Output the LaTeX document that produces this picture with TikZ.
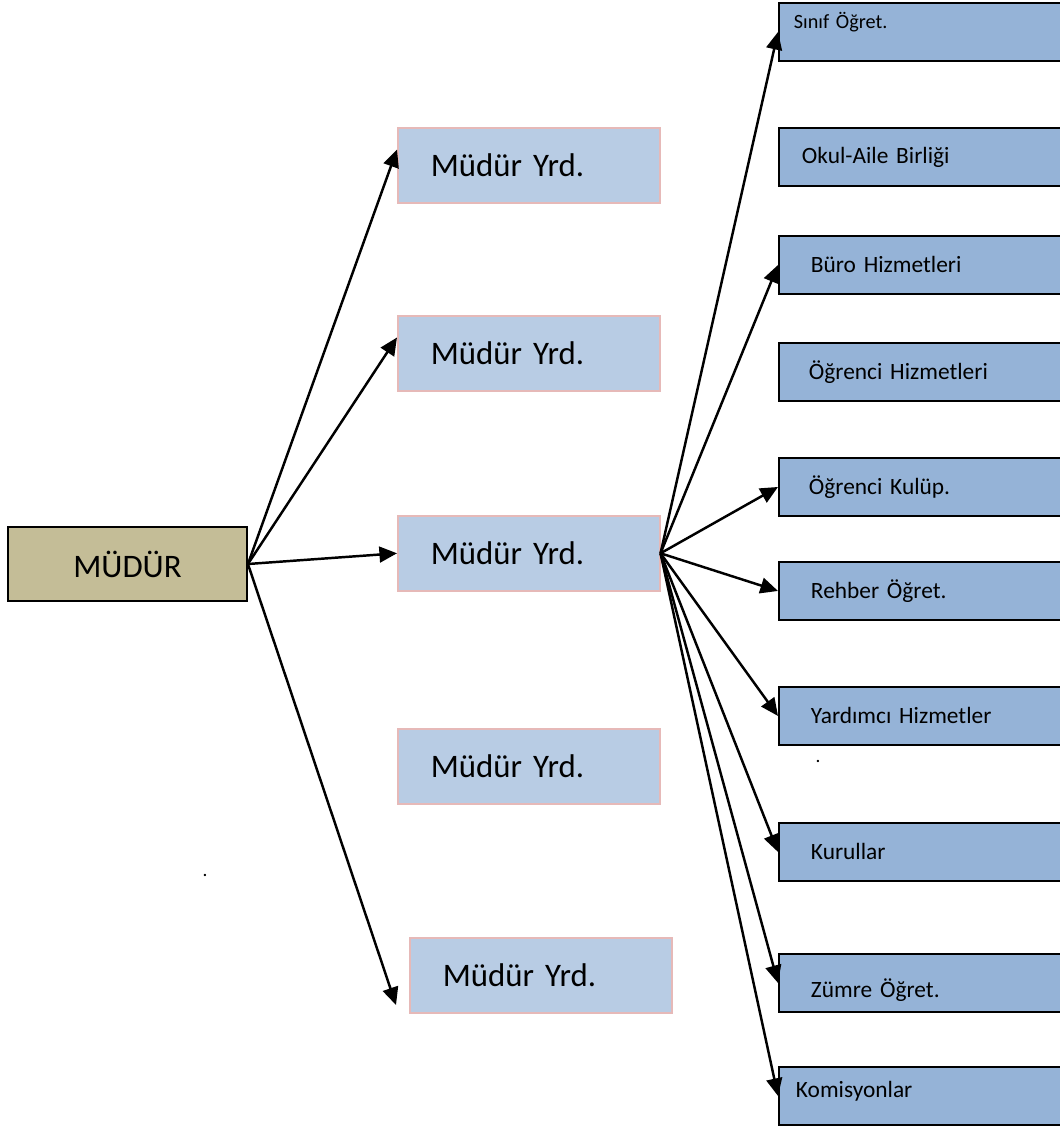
\documentclass[tikz,border=0pt]{standalone}
\usepackage{fontspec}
\setmainfont{Carlito}
\usetikzlibrary{arrows.meta}
\definecolor{mudurfill}{HTML}{C4BD97}
\definecolor{yrdfill}{HTML}{B8CCE4}
\definecolor{yrdline}{HTML}{E6B9B8}
\definecolor{birimfill}{HTML}{95B3D7}

\begin{document}
\begin{tikzpicture}[x=0.02cm,y=-0.02cm]

	\tikzstyle{mudur} = [draw=black,line width=1.1pt,fill=mudurfill,minimum width=4.78cm,minimum height=1.48cm,font=\fontsize{18.7}{22}\selectfont]
	\tikzstyle{yrd} = [draw=yrdline,line width=0.9pt,fill=yrdfill,anchor=north west,text width=3.92cm,inner xsep=0.66cm,minimum height=1.5cm,align=left,font=\fontsize{18.7}{22}\selectfont]
	\tikzstyle{birim} = [draw=black,line width=1.1pt,fill=birimfill,anchor=north west,text width=6cm,inner xsep=0.64cm,minimum height=1.16cm,align=left,font=\fontsize{13.3}{16}\selectfont]
	\tikzstyle{ok} = [line width=1.4pt,-{Triangle[length=10pt,width=9pt]}]
	\tikzstyle{nokta} = [inner sep=0pt,font=\fontsize{11}{13}\selectfont]

	\useasboundingbox (0,0) rectangle (1059,1129);

	% mudur
	\node[mudur] (mudur) at (127.5,564) {MÜDÜR};

	% yardimcilar
	\node[yrd] (yrd1) at (397,127) {Müdür Yrd.};
	\node[yrd] (yrd2) at (397,315) {Müdür Yrd.};
	\node[yrd] (yrd3) at (397,515) {Müdür Yrd.};
	\node[yrd] (yrd4) at (397,728) {Müdür Yrd.};
	\node[yrd] (yrd5) at (409,937) {Müdür Yrd.};

	% birimler
	\node[birim,inner xsep=0.3cm,text depth=0.45cm,font=\fontsize{11.5}{14}\selectfont] (sinif) at (778,2) {Sınıf Öğret.};
	\node[birim,inner xsep=0.46cm] (okul) at (778,127) {Okul-Aile Birliği};
	\node[birim] (buro) at (778,235) {Büro Hizmetleri};
	\node[birim,inner xsep=0.6cm] (ogrhiz) at (778,342) {Öğrenci Hizmetleri};
	\node[birim,inner xsep=0.6cm] (kulup) at (778,457) {Öğrenci Kulüp.};
	\node[birim] (rehber) at (778,561) {Rehber Öğret.};
	\node[birim] (yardimci) at (778,686) {Yardımcı Hizmetler};
	\node[birim] (kurul) at (778,822) {Kurullar};
	\node[birim,text height=0.68cm] (zumre) at (778,953) {Zümre Öğret.};
	\node[birim,inner xsep=0.34cm,text depth=0.28cm] (komisyon) at (778,1066) {Komisyonlar};

	\node[nokta] (nokta1) at (205,875) {.};
	\node[nokta] (nokta2) at (818,761) {.};

	% oklar
	\draw[ok] (mudur.east) -- ([yshift=9pt]yrd1.west);
	\draw[ok] (mudur.east) -- ([yshift=9pt]yrd2.west);
	\draw[ok] (mudur.east) -- (yrd3.west);
	\coordinate (uc5) at (396,1005);
	\draw[ok] (mudur.east) -- (uc5);

	\foreach \b in {sinif,buro,kulup,rehber,yardimci,kurul,zumre,komisyon}
		\draw[ok] (yrd3.east) -- (\b.west);

\end{tikzpicture}
\end{document}
